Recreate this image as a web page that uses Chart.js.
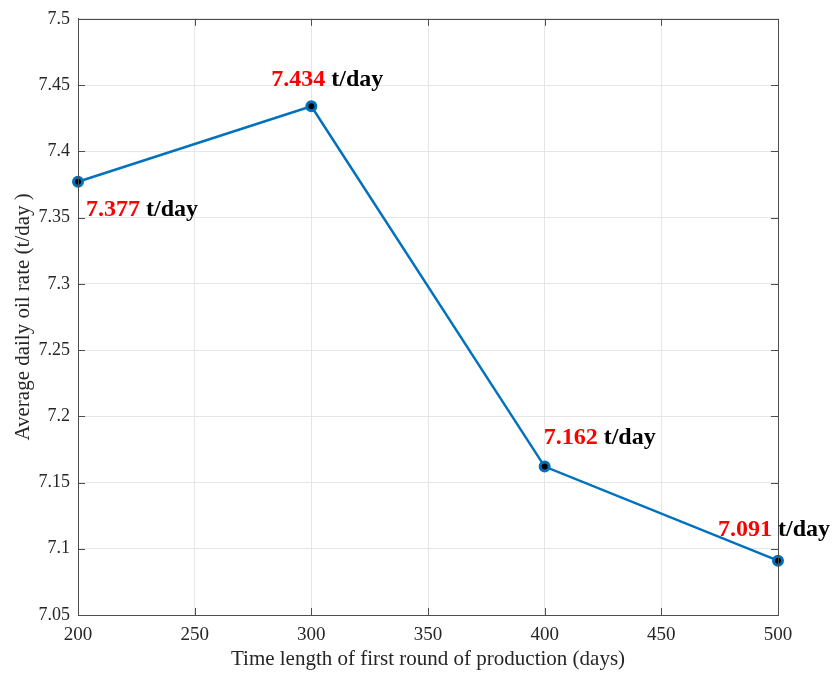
<!DOCTYPE html>
<html>
<head>
<meta charset="utf-8">
<script src="https://cdn.jsdelivr.net/npm/chart.js@4.4.1/dist/chart.umd.min.js"></script>
<style>
  html, body { margin: 0; padding: 0; background: #ffffff; }
  #wrap { width: 834px; height: 673px; }
</style>
</head>
<body>
<div id="wrap"><canvas id="c" width="834" height="673"></canvas></div>
<script>
// Length of the first production round (days)
const roundDays = [200, 300, 400, 500];
// Average daily oil rate (t/day)
const oilRate = [7.377, 7.434, 7.162, 7.091];
// Text shown next to each point
const valueText = ['7.377', '7.434', '7.162', '7.091'];
const unitText = ' t/day';
// Axis ticks
const xTicks = [200, 250, 300, 350, 400, 450, 500];
const yTicks = [7.05, 7.1, 7.15, 7.2, 7.25, 7.3, 7.35, 7.4, 7.45, 7.5];

// Where each value label sits relative to its point (px offsets, text anchor)
const labelPlacement = [
  { dx: 8, dy: 34, align: 'left' },
  { dx: 16, dy: -20, align: 'center' },
  { dx: -1, dy: -23, align: 'left' },
  { dx: -60, dy: -25, align: 'left' }
];

const FONT = '"Liberation Serif", "Times New Roman", serif';
const AXIS_COLOR = '#4d4d4d';

const frameAndLabels = {
  id: 'frameAndLabels',
  afterDatasetsDraw(chart) {
    const { ctx, chartArea: a, scales } = chart;
    const xs = scales.x, ys = scales.y;
    ctx.save();
    // box around plot area
    ctx.strokeStyle = AXIS_COLOR;
    ctx.lineWidth = 1;
    ctx.strokeRect(Math.round(a.left) + 0.5, Math.round(a.top) + 0.5,
                   Math.round(a.right - a.left), Math.round(a.bottom - a.top));
    // inward tick marks on all four sides
    const tl = 7;
    ctx.beginPath();
    xTicks.forEach(v => {
      const px = Math.round(xs.getPixelForValue(v)) + 0.5;
      ctx.moveTo(px, a.bottom); ctx.lineTo(px, a.bottom - tl);
      ctx.moveTo(px, a.top); ctx.lineTo(px, a.top + tl);
    });
    yTicks.forEach(v => {
      const py = Math.round(ys.getPixelForValue(v)) + 0.5;
      ctx.moveTo(a.left, py); ctx.lineTo(a.left + tl, py);
      ctx.moveTo(a.right, py); ctx.lineTo(a.right - tl, py);
    });
    ctx.stroke();
    ctx.restore();
  },
  afterDraw(chart) {
    const { ctx, scales } = chart;
    const xs = scales.x, ys = scales.y;
    ctx.save();
    // value labels
    ctx.font = 'bold 24px ' + FONT;
    ctx.textBaseline = 'alphabetic';
    roundDays.forEach((d, i) => {
      const px = xs.getPixelForValue(d);
      const py = ys.getPixelForValue(oilRate[i]);
      const p = labelPlacement[i];
      const w1 = ctx.measureText(valueText[i]).width;
      const w2 = ctx.measureText(unitText).width;
      let x0 = px + p.dx;
      if (p.align === 'center') x0 -= (w1 + w2) / 2;
      ctx.textAlign = 'left';
      ctx.fillStyle = '#ff0000';
      ctx.fillText(valueText[i], x0, py + p.dy);
      ctx.fillStyle = '#000000';
      ctx.fillText(unitText, x0 + w1, py + p.dy);
    });
    ctx.restore();
  }
};

new Chart(document.getElementById('c'), {
  type: 'scatter',
  data: {
    datasets: [{
      data: roundDays.map((d, i) => ({ x: d, y: oilRate[i] })),
      showLine: true,
      clip: false,
      borderColor: '#0072BD',
      borderWidth: 2.5,
      pointRadius: 4.5,
      pointBorderWidth: 3,
      pointBorderColor: '#0072BD',
      pointBackgroundColor: '#000000',
      tension: 0
    }]
  },
  options: {
    responsive: false,
    animation: false,
    events: [],
    layout: { padding: { top: 17, right: 56, bottom: 0, left: 0 } },
    plugins: { legend: { display: false }, tooltip: { enabled: false } },
    scales: {
      x: {
        type: 'linear',
        min: 200, max: 500,
        afterBuildTicks: s => { s.ticks = xTicks.map(v => ({ value: v })); },
        afterFit: s => { s.height = 58; },
        grid: { color: '#e6e6e6', lineWidth: 1, drawTicks: false },
        border: { display: true, color: AXIS_COLOR },
        ticks: {
          padding: 9,
          color: '#262626',
          font: { family: FONT, size: 19 },
          maxRotation: 0,
          callback: v => String(v)
        },
        title: {
          display: true,
          text: 'Time length of first round of production (days)',
          color: '#262626',
          font: { family: FONT, size: 21 },
          padding: { top: 0, bottom: 1 }
        }
      },
      y: {
        type: 'linear',
        min: 7.05, max: 7.5,
        afterBuildTicks: s => { s.ticks = yTicks.map(v => ({ value: v })); },
        afterFit: s => { s.width = 78; },
        grid: { color: '#e6e6e6', lineWidth: 1, drawTicks: false },
        border: { display: true, color: AXIS_COLOR },
        ticks: {
          padding: 8,
          color: '#262626',
          font: { family: FONT, size: 18 },
          callback: v => String(Number(v.toFixed(2)))
        },
        title: {
          display: true,
          text: 'Average daily oil rate (t/day )',
          color: '#262626',
          font: { family: FONT, size: 21 },
          padding: { top: 11, bottom: 0 }
        }
      }
    }
  },
  plugins: [frameAndLabels]
});
</script>
</body>
</html>
